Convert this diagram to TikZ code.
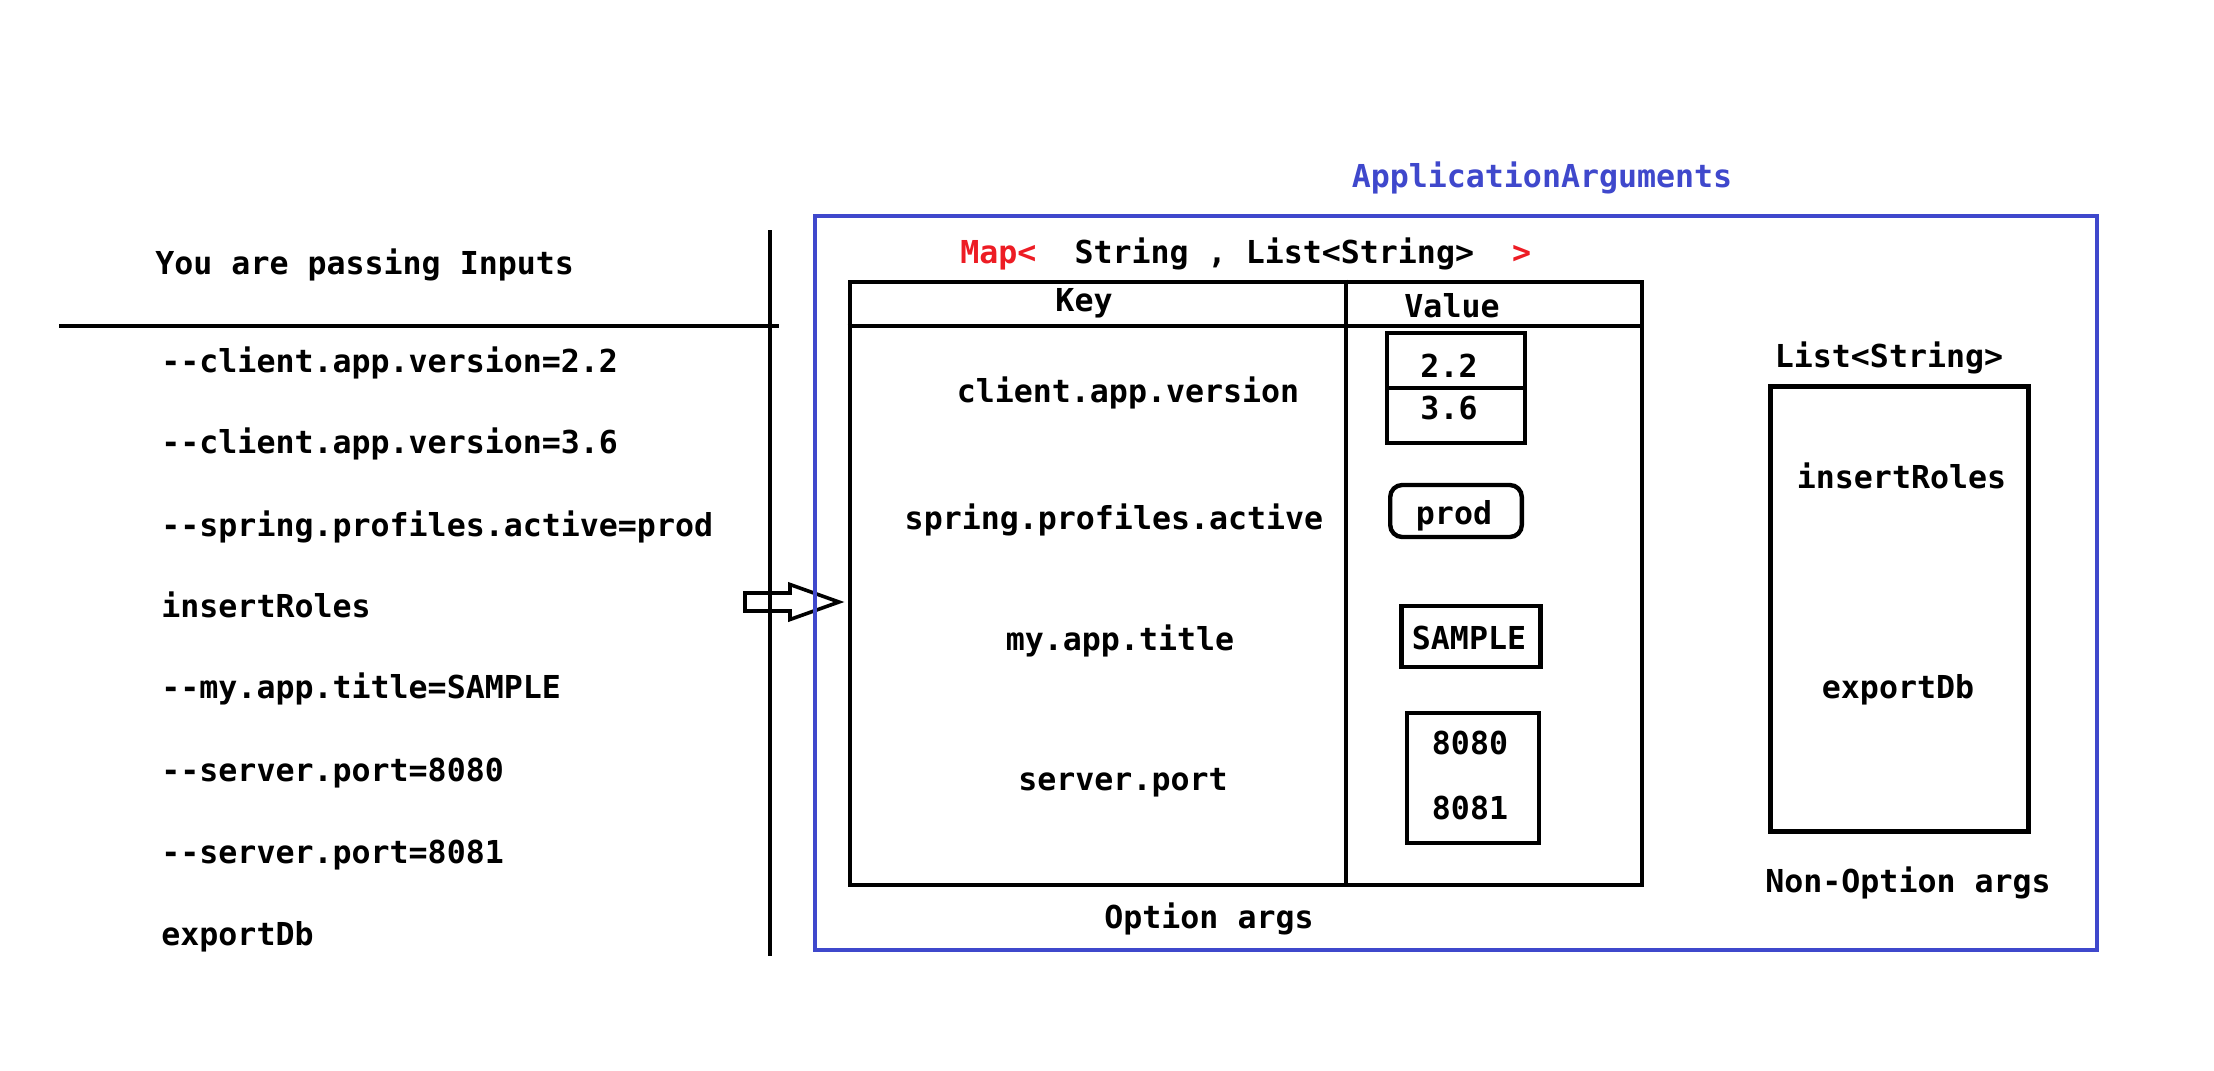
\documentclass[tikz,border=0pt]{standalone}
\usepackage{fontspec}
\setmonofont{DejaVu Sans Mono}
\usepackage{tikz}
\definecolor{argblue}{RGB}{63,72,204}
\definecolor{mapred}{RGB}{237,28,36}
\tikzstyle{argtext} = [font=\ttfamily\bfseries\fontsize{15.8}{19}\selectfont,
    inner sep=0pt, anchor=base]
\tikzstyle{leftarg} = [argtext, anchor=base west]
\tikzstyle{appframe} = [draw=argblue, line width=2.2pt, inner sep=0pt]
\tikzstyle{tablebox} = [draw, line width=2.4pt, inner sep=0pt]
\tikzstyle{valbox} = [draw, line width=2.2pt, inner sep=0pt]
\tikzstyle{blackrule} = [line width=2.4pt]

\begin{document}
\begin{tikzpicture}[x=0.5pt, y=-0.5pt]
\useasboundingbox (0,0) rectangle (2214,1070);
% Inputs
	\node [leftarg] (title) at (155,274) {You are passing Inputs};
	\node [leftarg] (in1) at (161,372) {--client.app.version=2.2};
	\node [leftarg] (in2) at (161,453.5) {--client.app.version=3.6};
	\node [leftarg] (in3) at (161,536) {--spring.profiles.active=prod};
	\node [leftarg] (in4) at (161,617) {insertRoles};
	\node [leftarg] (in5) at (161,698.5) {--my.app.title=SAMPLE};
	\node [leftarg] (in6) at (161,781) {--server.port=8080};
	\node [leftarg] (in7) at (161,863) {--server.port=8081};
	\node [leftarg] (in8) at (161,945) {exportDb};
	\coordinate (rulel) at (59,326);
	\coordinate (ruler) at (779,326);
	\coordinate (divtop) at (770,230);
	\coordinate (divbot) at (770,956);
	\draw [blackrule] (rulel) -- (ruler);
	\draw [blackrule] (divtop) -- (divbot);
% Arrow
	\coordinate (pass) at (745,602);
	\draw [line width=1.8pt, line join=miter] (pass) ++(0,-9) -- ++(45,0) -- ++(0,-8.5)
		-- ++(49,17.5) -- ++(-49,17.5) -- ++(0,-8.5) -- ++(-45,0) -- cycle;
% ApplicationArguments
	\node [argtext, text=argblue] (appname) at (1542,187.5) {ApplicationArguments};
	\node [appframe, minimum width=641pt, minimum height=367pt] (appargs) at (1456,583) {};
	\node [argtext, anchor=base west] (maptype) at (960,263.5)
		{\textcolor{mapred}{Map<}\ \ String , List<String>\ \ \textcolor{mapred}{>}};
% Option args table
	\node [tablebox, minimum width=396pt, minimum height=301.5pt] (table) at (1246,583.5) {};
	\coordinate (colsplit) at (1346,0);
	\coordinate (headline) at (0,326);
	\draw [blackrule] (table.north -| colsplit) -- (table.south -| colsplit);
	\draw [blackrule] (table.west |- headline) -- (table.east |- headline);
	\node [argtext] (key) at (1084,311) {Key};
	\node [argtext] (value) at (1452,317) {Value};
	\node [argtext] (k1) at (1128,402) {client.app.version};
	\node [argtext] (k2) at (1114,529) {spring.profiles.active};
	\node [argtext] (k3) at (1120,650.5) {my.app.title};
	\node [argtext] (k4) at (1123,790) {server.port};
	\node [valbox, minimum width=68.75pt, minimum height=55.25pt] (v1) at (1456,388) {};
	\draw [valbox] (v1.west) -- (v1.east);
	\node [argtext] (v1a) at (1449,377) {2.2};
	\node [argtext] (v1b) at (1449,419) {3.6};
	\node [valbox, rounded corners=6pt, minimum width=65.8pt, minimum height=26pt] (v2) at (1456,511) {};
	\node [argtext] (v2a) at (1454,524) {prod};
	\node [valbox, minimum width=69.5pt, minimum height=30.5pt] (v3) at (1471,636.5) {};
	\node [argtext] (v3a) at (1469,649.5) {SAMPLE};
	\node [valbox, minimum width=66pt, minimum height=65.25pt] (v4) at (1473,778) {};
	\node [argtext] (v4a) at (1470,754) {8080};
	\node [argtext] (v4b) at (1470,819) {8081};
	\node [argtext] (optargs) at (1209,928.5) {Option args};
% Non-option args
	\node [argtext] (listtype) at (1889,367.5) {List<String>};
	\node [tablebox, minimum width=129pt, minimum height=222.3pt] (nonopt) at (1899.5,609) {};
	\node [argtext] (n1) at (1901.5,488.5) {insertRoles};
	\node [argtext] (n2) at (1898,698) {exportDb};
	\node [argtext] (nonoptargs) at (1908,892) {Non-Option args};
\end{tikzpicture}
\end{document}
